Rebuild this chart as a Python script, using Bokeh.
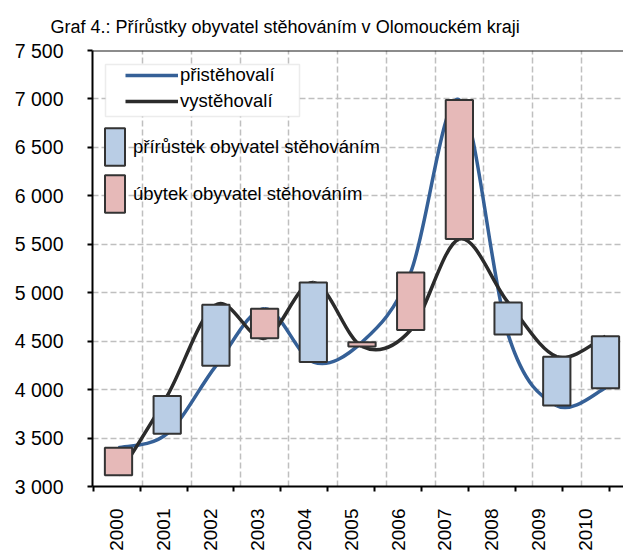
import math
from bokeh.plotting import figure
from bokeh.models import (ColumnDataSource, FixedTicker, Range1d, LinearAxis, Span, Legend,
                          LegendItem, BoxAnnotation, Grid)
from bokeh.embed import file_html
from bokeh.resources import INLINE

# ---- data ----
years = ["2000", "2001", "2002", "2003", "2004", "2005", "2006", "2007", "2008", "2009", "2010"]
immigrants = [3400, 3545, 4245, 4835, 4285, 4490, 5210, 6990, 4570, 3835, 4015]   # přistěhovalí
emigrants = [3115, 3935, 4875, 4530, 5105, 4445, 4615, 5555, 4900, 4340, 4550]    # vystěhovalí
y_ticks = [3000, 3500, 4000, 4500, 5000, 5500, 6000, 6500, 7000, 7500]
y_tick_labels = ["3 000", "3 500", "4 000", "4 500", "5 000", "5 500", "6 000", "6 500", "7 000", "7 500"]

title_text = "Graf 4.: Přírůstky obyvatel stěhováním v Olomouckém kraji"
lbl_imm = "přistěhovalí"
lbl_emi = "vystěhovalí"
lbl_gain = "přírůstek obyvatel stěhováním"
lbl_loss = "úbytek obyvatel stěhováním"

FONT = "Liberation Sans"
BLUE_LINE = "#356097"
BLACK_LINE = "#2b2b2b"
BLUE_FILL = "#b9cde5"
PINK_FILL = "#e6b9b8"
OUTLINE = "#333333"
GRID = "#bfbfbf"

xs = list(range(len(years)))

p = figure(width=623, height=553, output_backend="svg", toolbar_location=None,
           x_range=Range1d(-0.534, 10.37), y_range=Range1d(3000, 7500),
           min_border_left=92, min_border_right=0, min_border_top=50, min_border_bottom=66,
           x_axis_location=None, y_axis_location="left", title=title_text)
p.outline_line_color = None
p.background_fill_color = "white"
p.border_fill_color = "white"
p.extra_x_ranges = {"axis": Range1d(-0.015, 11.307)}

p.title.text_font = FONT
p.title.text_font_size = "18px"
p.title.text_font_style = "normal"
p.title.text_color = "#000000"
p.title.align = "left"
p.title.offset = -42
p.title.standoff = 28

for g in p.grid:
    g.visible = False

# grids
ygrid = Grid(dimension=1, ticker=FixedTicker(ticks=y_ticks[1:-1]), grid_line_color=GRID,
             grid_line_width=1.5, grid_line_dash="6 3")
xgrid = Grid(dimension=0, ticker=FixedTicker(ticks=[i + 0.5 for i in xs]), grid_line_color=GRID,
             grid_line_width=1.5, grid_line_dash="6 3")
p.add_layout(ygrid, "center")
p.add_layout(xgrid, "center")

# left axis
ya = p.yaxis[0]
ya.ticker = FixedTicker(ticks=y_ticks)
ya.major_label_overrides = dict(zip(y_ticks, y_tick_labels))
ya.major_label_text_font = FONT
ya.major_label_text_font_size = "19.5px"
ya.major_label_text_color = "#000000"
ya.major_label_standoff = 24
ya.major_tick_out = 5
ya.major_tick_in = 0
ya.minor_tick_out = 0
ya.minor_tick_in = 0
ya.axis_line_width = 2
ya.axis_line_color = "#000000"
ya.major_tick_line_width = 2
ya.major_tick_line_color = "#000000"

# bottom axis: labels at category centres, ticks at category boundaries
label_pos = [i + 0.5 for i in xs]
xa = LinearAxis(x_range_name="axis",
                ticker=FixedTicker(ticks=label_pos, minor_ticks=list(range(len(years) + 1))),
                major_label_overrides=dict(zip(label_pos, years)),
                major_label_orientation=math.pi / 2,
                major_label_text_font=FONT, major_label_text_font_size="19px",
                major_label_text_color="#000000", major_label_standoff=17,
                major_tick_out=0, major_tick_in=0, minor_tick_out=5, minor_tick_in=0,
                minor_tick_line_width=2, minor_tick_line_color="#000000",
                axis_line_width=2, axis_line_color="#000000")
p.add_layout(xa, "below")

# top border
p.add_layout(Span(location=7500, dimension="width", line_color="#1a1a1a", line_width=2))

# smoothed lines (Bezier segments through the data points)
def bezier_source(ys):
    n = len(ys)
    d = dict(x0=[], y0=[], x1=[], y1=[], cx0=[], cy0=[], cx1=[], cy1=[])
    for i in range(n - 1):
        im = max(i - 1, 0)
        ip = min(i + 2, n - 1)
        d["x0"].append(xs[i]); d["y0"].append(ys[i])
        d["x1"].append(xs[i + 1]); d["y1"].append(ys[i + 1])
        d["cx0"].append(xs[i] + (xs[i + 1] - xs[im]) / 6.0)
        d["cy0"].append(ys[i] + (ys[i + 1] - ys[im]) / 6.0)
        d["cx1"].append(xs[i + 1] - (xs[ip] - xs[i]) / 6.0)
        d["cy1"].append(ys[i + 1] - (ys[ip] - ys[i]) / 6.0)
    return ColumnDataSource(d)

r_imm = p.bezier(x0="x0", y0="y0", x1="x1", y1="y1", cx0="cx0", cy0="cy0", cx1="cx1", cy1="cy1",
                 source=bezier_source(immigrants), line_color=BLUE_LINE, line_width=3.5)
r_emi = p.bezier(x0="x0", y0="y0", x1="x1", y1="y1", cx0="cx0", cy0="cy0", cx1="cx1", cy1="cy1",
                 source=bezier_source(emigrants), line_color=BLACK_LINE, line_width=3.5)

# boxes
gain = dict(x=[], top=[], bottom=[])
loss = dict(x=[], top=[], bottom=[])
for x, a, b in zip(xs, immigrants, emigrants):
    tgt = gain if b > a else loss
    tgt["x"].append(x); tgt["top"].append(max(a, b)); tgt["bottom"].append(min(a, b))
r_gain = p.vbar(x="x", top="top", bottom="bottom", width=0.56, source=ColumnDataSource(gain),
                fill_color=BLUE_FILL, line_color=OUTLINE, line_width=2)
r_loss = p.vbar(x="x", top="top", bottom="bottom", width=0.56, source=ColumnDataSource(loss),
                fill_color=PINK_FILL, line_color=OUTLINE, line_width=2)

# legend box for the lines
p.add_layout(BoxAnnotation(left=13, right=207, top=422, bottom=370, left_units="screen",
                           right_units="screen", top_units="screen", bottom_units="screen",
                           fill_color="white", fill_alpha=1.0, line_color=GRID, line_width=1.5))

leg1 = Legend(items=[LegendItem(label=lbl_imm, renderers=[r_imm]),
                     LegendItem(label=lbl_emi, renderers=[r_emi])],
              location=(33, 374), glyph_width=53, glyph_height=20, label_height=20, spacing=4,
              padding=0, margin=0, label_standoff=2, border_line_color=None, background_fill_alpha=0,
              label_text_font=FONT, label_text_font_size="18.5px", label_text_color="#000000")
leg2 = Legend(items=[LegendItem(label=lbl_gain, renderers=[r_gain]),
                     LegendItem(label=lbl_loss, renderers=[r_loss])],
              location=(10, 269), glyph_width=25, glyph_height=47, label_height=20, spacing=0,
              padding=0, margin=0, label_standoff=6, border_line_color=None, background_fill_alpha=0,
              label_text_font=FONT, label_text_font_size="18.5px", label_text_color="#000000")
p.add_layout(leg1)
p.add_layout(leg2)

open("out.html", "w").write(file_html(p, INLINE))
